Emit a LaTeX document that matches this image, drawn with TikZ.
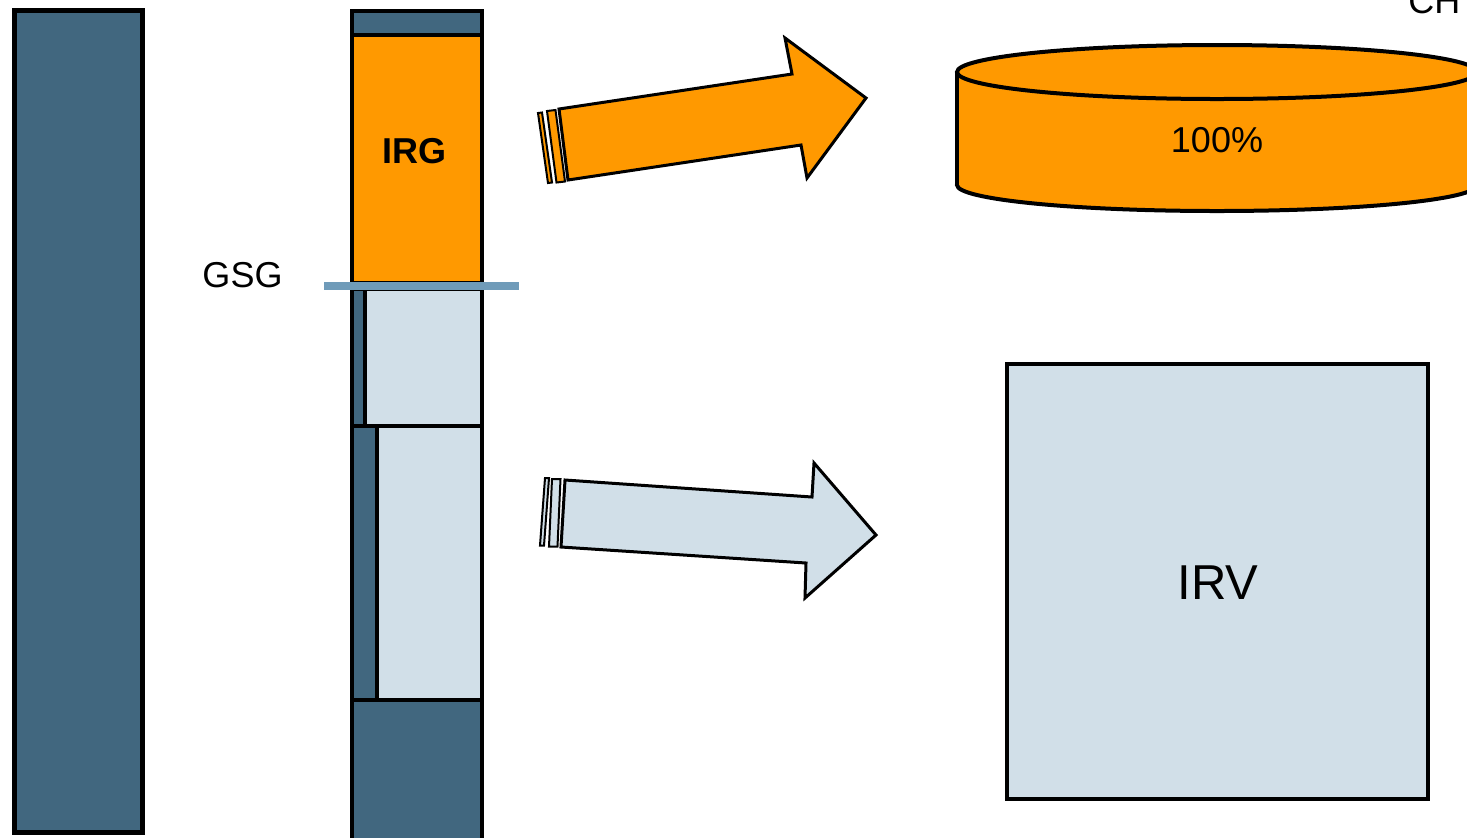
\documentclass[tikz,border=0pt]{standalone}
\usepackage{fontspec}
\setmainfont{Liberation Sans}

\definecolor{slate}{HTML}{41677F}
\definecolor{irgorange}{HTML}{FF9900}
\definecolor{paleblue}{HTML}{D1DFE8}
\definecolor{gsgblue}{HTML}{6F9BB9}

\begin{document}
\begin{tikzpicture}[x=0.5pt, y=-0.5pt,
		block/.style={draw=black, line width=2pt},
		darkblock/.style={block, fill=slate},
		bigarrow/.style={draw=black, line width=1.5pt, line join=miter},
		tailstripe/.style={draw=black, line width=1pt},
		tagtext/.style={font=\fontsize{18}{20}\selectfont, inner sep=0pt}]

		\useasboundingbox (0,0) rectangle (1467,837);

		% Left column
		\draw[darkblock, line width=2.5pt] (14.5,10.5) rectangle (142.5,832.5);

		% Middle column, upper part
		\draw[darkblock] (351.5,10.5) rectangle (481.5,34.5);
		\draw[block, fill=irgorange] (351.5,34.5) rectangle (481.5,283);
		\node[tagtext, font=\fontsize{18}{20}\selectfont\bfseries] (irg) at (414,151) {IRG};

		% Middle column, lower part
		\draw[darkblock] (351.5,289) rectangle (365,425.5);
		\draw[block, fill=paleblue] (365,289) rectangle (481.5,425.5);
		\draw[darkblock] (351.5,425.5) rectangle (377,699.5);
		\draw[block, fill=paleblue] (377,425.5) rectangle (481.5,699.5);
		\draw[darkblock] (351.5,699.5) rectangle (481.5,850);

		% GSG level
		\draw[gsgblue, line width=4pt] (324,286) -- (519,286);
		\node[tagtext] (gsg) at (242.5,275) {GSG};

		% Upper arrow
		\draw[bigarrow, fill=irgorange] (559,109) -- (792,74) -- (785,38) -- (866,98)
			-- (807,178) -- (801,145) -- (568,180) -- cycle;
		\draw[tailstripe, fill=irgorange] (547,111) -- (555.5,110) -- (565,181.5) -- (556.5,182.5) -- cycle;
		\draw[tailstripe, fill=irgorange] (538,113) -- (542,112.5) -- (552,182.5) -- (548,183) -- cycle;

		% Lower arrow
		\draw[bigarrow, fill=paleblue] (565,480) -- (812,497) -- (814,463) -- (876,535)
			-- (805,598) -- (806,563) -- (561,547) -- cycle;
		\draw[tailstripe, fill=paleblue] (552,479) -- (560.5,479) -- (557.5,546.5) -- (549,546.5) -- cycle;
		\draw[tailstripe, fill=paleblue] (545,478) -- (549,478) -- (544,545.5) -- (540,545.5) -- cycle;

		% Cylinder
		\draw[block, fill=irgorange] (1217,185) ellipse [x radius=260, y radius=26];
		\fill[irgorange] (957,72) rectangle (1490,185);
		\draw[line width=2pt] (957,72) -- (957,185);
		\draw[block, fill=irgorange] (1217,72) ellipse [x radius=260, y radius=27];
		\node[tagtext] (share) at (1217,140) {100\%};
		\node[tagtext, anchor=base west] (ch) at (1408,13) {CH};

		% IRV box
		\draw[block, fill=paleblue] (1007,364) rectangle (1428,799);
		\node[tagtext, font=\fontsize{24.5}{28}\selectfont] (irv) at (1218,582.5) {IRV};
	\end{tikzpicture}
\end{document}
